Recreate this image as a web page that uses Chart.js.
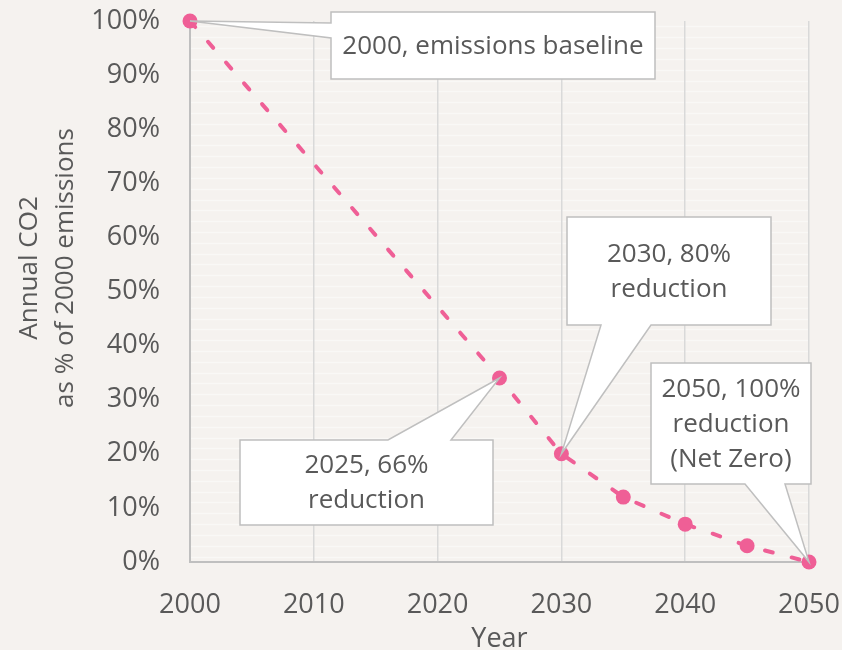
<!DOCTYPE html>
<html>
<head>
<meta charset="utf-8">
<script src="https://cdn.jsdelivr.net/npm/chart.js@4/dist/chart.umd.min.js"></script>
<style>
  html, body { margin: 0; padding: 0; background: #f5f2ef; }
  #wrap { width: 842px; height: 650px; position: relative; }
</style>
</head>
<body>
<div id="wrap"><canvas id="c" width="842" height="650"></canvas></div>
<script>
// ---- data ----
const years = [2000, 2025, 2030, 2035, 2040, 2045, 2050];
const emissionsPct = [100, 34, 20, 12, 7, 3, 0];
const xTickValues = [2000, 2010, 2020, 2030, 2040, 2050];
const yTickValues = [0, 10, 20, 30, 40, 50, 60, 70, 80, 90, 100];
const yTitleLines = ['Annual CO2', 'as % of 2000 emissions'];
const xTitle = 'Year';
const calloutTexts = [
  ["2000, emissions baseline"],
  ["2025, 66%", "reduction"],
  ["2030, 80%", "reduction"],
  ["2050, 100%", "reduction", "(Net Zero)"]
];
const calloutPointIndex = [0, 1, 2, 6];

// ---- layout of callout boxes (pixels) ----
const calloutLayout = [
  { l: 331, t: 12, r: 655, b: 79, side: 'left', a: 23, c: 38 },
  { l: 240, t: 440, r: 493, b: 525, side: 'top', a: 388, c: 451 },
  { l: 567, t: 217, r: 771, b: 325, side: 'bottom', a: 601, c: 651 },
  { l: 651, t: 363, r: 811, b: 484, side: 'bottom', a: 745, c: 785 }
];

const FONT = "'Open Sans', 'Noto Sans', sans-serif";
const TEXT = '#595959';
const PINK = '#ef5f96';

const stripes = {
  id: 'stripes',
  beforeDraw(chart) {
    const { ctx, chartArea: ca, scales: { y } } = chart;
    ctx.save();
    ctx.strokeStyle = 'rgba(255,255,255,0.45)';
    ctx.lineWidth = 1.5;
    for (let v = 1; v < 100; v += 2) {
      const py = Math.round(y.getPixelForValue(v)) + 0.5;
      ctx.beginPath();
      ctx.moveTo(ca.left + 1, py);
      ctx.lineTo(ca.right, py);
      ctx.stroke();
    }
    ctx.restore();
  }
};

const yTitle = {
  id: 'yTitle',
  afterDraw(chart) {
    const { ctx } = chart;
    ctx.save();
    ctx.translate(0, 268);
    ctx.rotate(-Math.PI / 2);
    ctx.fillStyle = TEXT;
    ctx.font = '26px ' + FONT;
    ctx.textAlign = 'center';
    ctx.textBaseline = 'middle';
    ctx.fillText(yTitleLines[0], 0, 30);
    ctx.fillText(yTitleLines[1], 0, 66);
    ctx.restore();
  }
};

const callouts = {
  id: 'callouts',
  afterDatasetsDraw(chart) {
    const { ctx, scales: { x, y } } = chart;
    ctx.save();
    calloutTexts.forEach((lines, i) => {
      const L = calloutLayout[i];
      const idx = calloutPointIndex[i];
      const tx = x.getPixelForValue(years[idx]);
      const ty = y.getPixelForValue(emissionsPct[idx]);
      ctx.beginPath();
      if (L.side === 'left') {
        ctx.moveTo(L.l, L.t); ctx.lineTo(L.r, L.t); ctx.lineTo(L.r, L.b); ctx.lineTo(L.l, L.b);
        ctx.lineTo(L.l, L.c); ctx.lineTo(tx, ty); ctx.lineTo(L.l, L.a);
      } else if (L.side === 'top') {
        ctx.moveTo(L.l, L.t); ctx.lineTo(L.a, L.t); ctx.lineTo(tx, ty); ctx.lineTo(L.c, L.t);
        ctx.lineTo(L.r, L.t); ctx.lineTo(L.r, L.b); ctx.lineTo(L.l, L.b);
      } else {
        ctx.moveTo(L.l, L.t); ctx.lineTo(L.r, L.t); ctx.lineTo(L.r, L.b); ctx.lineTo(L.c, L.b);
        ctx.lineTo(tx, ty); ctx.lineTo(L.a, L.b); ctx.lineTo(L.l, L.b);
      }
      ctx.closePath();
      ctx.fillStyle = '#ffffff';
      ctx.fill();
      ctx.strokeStyle = '#bfbfbf';
      ctx.lineWidth = 1.5;
      ctx.lineJoin = 'miter';
      ctx.stroke();
      ctx.fillStyle = TEXT;
      ctx.font = '26px ' + FONT;
      ctx.textAlign = 'center';
      ctx.textBaseline = 'middle';
      const lh = 35;
      const cx = (L.l + L.r) / 2, cy = (L.t + L.b) / 2 + 1;
      lines.forEach((s, k) => {
        ctx.fillText(s, cx, cy + (k - (lines.length - 1) / 2) * lh);
      });
    });
    ctx.restore();
  }
};

new Chart(document.getElementById('c'), {
  type: 'line',
  data: {
    datasets: [{
      data: years.map((yr, i) => ({ x: yr, y: emissionsPct[i] })),
      borderColor: PINK,
      backgroundColor: PINK,
      borderWidth: 4,
      borderDash: [8, 19.5],
      borderCapStyle: 'round',
      pointRadius: 7.5,
      pointHoverRadius: 7.5,
      pointBorderWidth: 0,
      tension: 0,
      clip: false
    }]
  },
  options: {
    responsive: false,
    animation: false,
    events: [],
    layout: { padding: { top: 21, right: 33, left: 0, bottom: 0 } },
    plugins: { legend: { display: false }, tooltip: { enabled: false } },
    scales: {
      x: {
        type: 'linear',
        min: 2000, max: 2050,
        afterBuildTicks(s) { s.ticks = xTickValues.map(v => ({ value: v })); },
        afterFit(s) { s.height = 88; s.paddingLeft = 0; s.paddingRight = 0; },
        grid: { color: '#d9d9d9', lineWidth: 1.5, drawTicks: false },
        border: { display: true, color: '#bfbfbf', width: 2 },
        ticks: { color: TEXT, font: { family: FONT, size: 27 }, padding: 27, maxRotation: 0,
                 callback: v => String(v) },
        title: { display: true, text: xTitle, color: TEXT, font: { family: FONT, size: 27 },
                 padding: { top: 0, bottom: -6 } }
      },
      y: {
        min: 0, max: 100,
        afterBuildTicks(s) { s.ticks = yTickValues.map(v => ({ value: v })); },
        afterFit(s) { s.width = 190; s.paddingTop = 0; s.paddingBottom = 0; },
        grid: { display: false, drawTicks: false },
        border: { display: true, color: '#bfbfbf', width: 2 },
        ticks: { color: TEXT, font: { family: FONT, size: 27 }, padding: 30,
                 callback: v => v + '%' },
        title: { display: false }
      }
    }
  },
  plugins: [stripes, callouts, yTitle]
});
</script>
</body>
</html>
